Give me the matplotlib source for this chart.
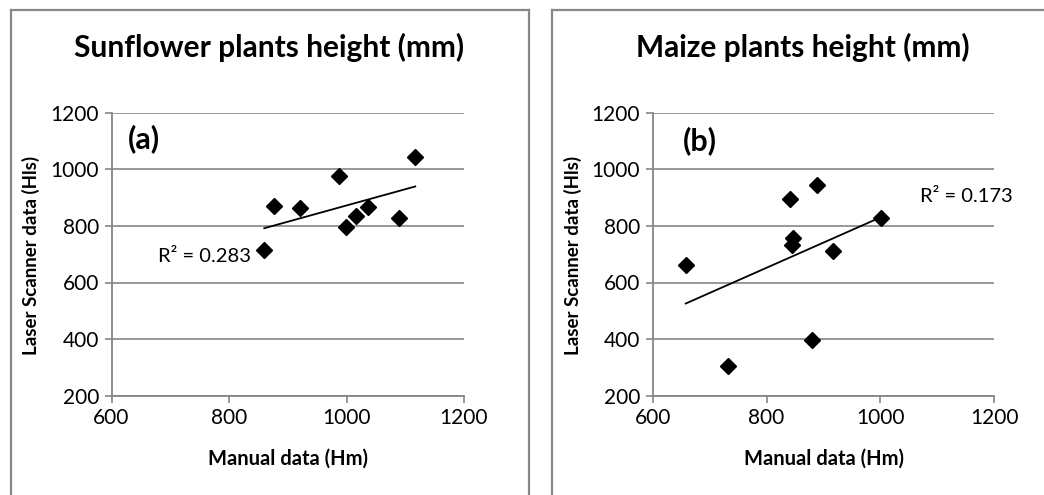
import numpy as np
import matplotlib
matplotlib.use("Agg")
import matplotlib.pyplot as plt
from matplotlib.lines import Line2D

plt.rcParams['font.family'] = ['Lato', 'DejaVu Sans']

# Data
sun_manual = [860, 876, 921, 987, 999, 1016, 1037, 1090, 1117]
sun_laser = [715, 871, 862, 978, 795, 835, 868, 829, 1045]
maize_manual = [658, 733, 841, 846, 845, 880, 889, 917, 1001]
maize_laser = [663, 306, 894, 758, 731, 397, 946, 711, 829]

titles = ["Sunflower plants height (mm)", "Maize plants height (mm)"]
panel_tags = ["(a)", "(b)"]
r2_labels = ["R² = 0.283", "R² = 0.173"]
x_label = "Manual data (Hm)"
y_label = "Laser Scanner data (Hls)"
x_ticks = [600, 800, 1000, 1200]
y_ticks = [200, 400, 600, 800, 1000, 1200]

W, H = 1044, 495
fig = plt.figure(figsize=(W / 100, H / 100), dpi=100)

def fx(px):
    return px / W

def fy(py):
    return 1 - py / H

box_col = '#888888'
# chart area borders
for (l, r) in [(11, 529), (552, 1060)]:
    fig.add_artist(Line2D([fx(l), fx(l)], [fy(500), fy(10)], color=box_col, lw=1.6))
    fig.add_artist(Line2D([fx(l), fx(r)], [fy(10), fy(10)], color=box_col, lw=1.6))
    fig.add_artist(Line2D([fx(r), fx(r)], [fy(10), fy(500)], color=box_col, lw=1.6))

grid_col = '#868686'
axes_px = [(111.5, 464, 113, 395.5), (652.7, 994.3, 113, 395.5)]
datasets = [(sun_manual, sun_laser), (maize_manual, maize_laser)]
title_cx = [269, 803]
ylab_cx = [31, 572.5]
tag_pos = [(0.047, 0.908), (0.088, 0.903)]
r2_pos = [(158, 257), (920, 196)]

for i in range(2):
    l, r, t, b = axes_px[i]
    ax = fig.add_axes([fx(l), fy(b), fx(r) - fx(l), (b - t) / H])
    xs, ys = datasets[i]
    ax.set_xlim(600, 1200)
    ax.set_ylim(200, 1200)
    ax.set_xticks(x_ticks)
    ax.set_yticks(y_ticks)
    ax.tick_params(direction='out', length=5, width=1.2, color=grid_col,
                   labelsize=15, labelcolor='black', pad=4)
    for s in ['top', 'right']:
        ax.spines[s].set_visible(False)
    for s in ['left', 'bottom']:
        ax.spines[s].set_color(grid_col)
        ax.spines[s].set_linewidth(1.3)
    ax.yaxis.grid(True, color=grid_col, lw=1.2)
    ax.set_axisbelow(True)
    ax.plot(xs, ys, linestyle='none', marker='D', ms=8.5, color='black', zorder=3)
    # linear trendline
    k, c = np.polyfit(xs, ys, 1)
    xx = np.array([min(xs), max(xs)])
    ax.plot(xx, k * xx + c, color='black', lw=1.3, zorder=2)
    ax.text(tag_pos[i][0], tag_pos[i][1], panel_tags[i], transform=ax.transAxes,
            fontsize=22, fontweight='bold', ha='left', va='center')
    fig.text(fx(r2_pos[i][0]), fy(r2_pos[i][1]), r2_labels[i], fontsize=14.5,
             ha='left', va='center')
    fig.text(fx(title_cx[i]), fy(47), titles[i], fontsize=21.5, fontweight='bold',
             ha='center', va='center')
    fig.text(fx(ylab_cx[i]), fy(255), y_label, fontsize=13.5, fontweight='bold',
             rotation=90, ha='center', va='center')
    fig.text(fx((l + r) / 2), fy(459), x_label, fontsize=14.5, fontweight='bold',
             ha='center', va='center')

fig.savefig('out.png', dpi=100, facecolor='white')
